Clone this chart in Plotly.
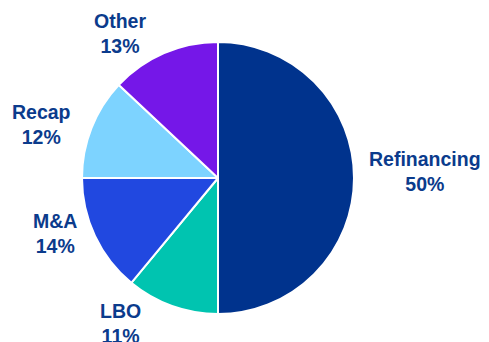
import plotly.graph_objects as go

# Deal purpose breakdown
categories = ["Refinancing", "LBO", "M&A", "Recap", "Other"]
shares = [50, 11, 14, 12, 13]
colors = ["#00338D", "#00C4B0", "#2148E0", "#7DD3FF", "#7517E8"]

W, H = 489, 342
cx, cy, r = 218, 178, 136  # pie centre and radius in pixels

# label block centres (pixels from top-left), one per category
label_xy = [(425, 171), (120, 323), (55, 233), (41, 124), (120, 34)]

fig = go.Figure(
    go.Pie(
        labels=categories,
        values=shares,
        sort=False,
        direction="clockwise",
        rotation=0,
        marker=dict(colors=colors, line=dict(color="white", width=2)),
        textinfo="none",
        showlegend=False,
        automargin=False,
        domain=dict(
            x=[(cx - r) / W, (cx + r) / W],
            y=[(H - cy - r) / H, (H - cy + r) / H],
        ),
        hoverinfo="label+percent",
    )
)

for name, val, (px, py) in zip(categories, shares, label_xy):
    fig.add_annotation(
        text=f"<b>{name}<br>{val}%</b>",
        x=px / W,
        y=1 - py / H,
        xref="paper",
        yref="paper",
        xanchor="center",
        yanchor="middle",
        showarrow=False,
        align="center",
        font=dict(family="Liberation Sans, Arial, sans-serif", size=19.5, color="#0B3B8C"),
    )

fig.update_layout(
    width=W,
    height=H,
    margin=dict(l=0, r=0, t=0, b=0),
    paper_bgcolor="white",
    plot_bgcolor="white",
)

fig.write_html("out.html")
